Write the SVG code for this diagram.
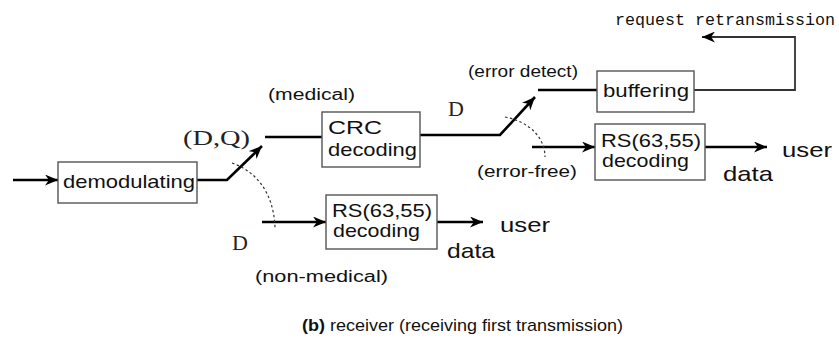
<svg xmlns="http://www.w3.org/2000/svg" width="839" height="340" viewBox="0 0 839 340">
  <style>
    .box { fill: #ffffff; stroke: #555555; stroke-width: 1.4; }
    .wire { fill: none; stroke: #000000; stroke-width: 2.6; }
    .thin { fill: none; stroke: #333333; stroke-width: 1.8; }
    .dash { fill: none; stroke: #333333; stroke-width: 1.2; stroke-dasharray: 2.5 2.5; }
    .lbl { font-family: "Liberation Sans", Arial, sans-serif; fill: #111111; }
    .node { font-size: 19px; }
    .note { font-size: 16px; }
    .ser { font-family: "Liberation Serif", "Times New Roman", serif; fill: #222222; font-size: 22px; }
    .mono { font-family: "Liberation Mono", "Courier New", monospace; fill: #111111; font-size: 16px; }
  </style>
  <defs>
    <marker id="arrowBig" viewBox="0 0 10 10" refX="10" refY="5" markerWidth="13" markerHeight="11" markerUnits="userSpaceOnUse" orient="auto" preserveAspectRatio="none">
      <path d="M0,0 L10,5 L0,10 L3,5 Z" fill="#000000"/>
    </marker>
  </defs>

  <!-- connectors -->
  <g id="connectors">
    <!-- input -->
    <line class="wire" x1="13" y1="180" x2="58" y2="180" stroke-width="2" marker-end="url(#arrowBig)"/>
    <!-- first switch -->
    <polyline class="wire" points="197,180 227,180 262,146" marker-end="url(#arrowBig)"/>
    <line class="wire" x1="265" y1="137" x2="322" y2="137"/>
    <line class="wire" x1="262" y1="222" x2="326" y2="222" marker-end="url(#arrowBig)"/>
    <path class="dash" d="M232,163 C258,172 274,195 275,228"/>
    <!-- second switch -->
    <polyline class="wire" points="420,135 500,135 535,97" marker-end="url(#arrowBig)"/>
    <line class="wire" x1="538" y1="90" x2="597" y2="90"/>
    <line class="wire" x1="532" y1="147" x2="595" y2="147" marker-end="url(#arrowBig)"/>
    <path class="dash" d="M505,117 C530,122 545,138 545,157"/>
    <!-- outputs -->
    <line class="wire" x1="705" y1="147" x2="767" y2="147" marker-end="url(#arrowBig)"/>
    <line class="wire" x1="437" y1="222" x2="483" y2="222" marker-end="url(#arrowBig)"/>
    <!-- retransmission request loop -->
    <polyline class="thin" points="694,90 795,90 795,37 702,37" marker-end="url(#arrowBig)"/>
  </g>

  <!-- nodes -->
  <g id="demodulating">
    <rect class="box" x="58" y="162" width="139" height="41"/>
    <text class="lbl node" x="63" y="188" textLength="132" lengthAdjust="spacingAndGlyphs">demodulating</text>
  </g>
  <g id="crc">
    <rect class="box" x="322" y="112" width="98" height="55"/>
    <text class="lbl node" x="328" y="134" textLength="54" lengthAdjust="spacingAndGlyphs">CRC</text>
    <text class="lbl node" x="328" y="156" textLength="89" lengthAdjust="spacingAndGlyphs">decoding</text>
  </g>
  <g id="buffering">
    <rect class="box" x="597" y="71" width="97" height="41"/>
    <text class="lbl node" x="603" y="97" textLength="86" lengthAdjust="spacingAndGlyphs">buffering</text>
  </g>
  <g id="rs-medical">
    <rect class="box" x="595" y="124" width="110" height="56"/>
    <text class="lbl node" x="601" y="147" textLength="100" lengthAdjust="spacingAndGlyphs">RS(63,55)</text>
    <text class="lbl node" x="602" y="167" textLength="87" lengthAdjust="spacingAndGlyphs">decoding</text>
  </g>
  <g id="rs-nonmedical">
    <rect class="box" x="326" y="195" width="111" height="54"/>
    <text class="lbl node" x="332" y="217" textLength="100" lengthAdjust="spacingAndGlyphs">RS(63,55)</text>
    <text class="lbl node" x="333" y="237" textLength="87" lengthAdjust="spacingAndGlyphs">decoding</text>
  </g>

  <!-- labels -->
  <g id="labels">
    <text class="mono" x="615" y="25" textLength="220" lengthAdjust="spacingAndGlyphs">request retransmission</text>
    <text class="lbl note" x="468" y="77" textLength="110" lengthAdjust="spacingAndGlyphs">(error detect)</text>
    <text class="lbl note" x="268" y="100" textLength="87" lengthAdjust="spacingAndGlyphs">(medical)</text>
    <text class="ser" font-size="23" x="183" y="145" textLength="67" lengthAdjust="spacingAndGlyphs">(D,Q)</text>
    <text class="ser" x="448" y="116">D</text>
    <text class="ser" x="232" y="250">D</text>
    <text class="lbl note" x="477" y="177" textLength="100" lengthAdjust="spacingAndGlyphs">(error-free)</text>
    <text class="lbl note" x="255" y="282" textLength="133" lengthAdjust="spacingAndGlyphs">(non-medical)</text>
    <text class="lbl" font-size="20" x="782" y="157" textLength="50" lengthAdjust="spacingAndGlyphs">user</text>
    <text class="lbl" font-size="21" x="723" y="181" textLength="50" lengthAdjust="spacingAndGlyphs">data</text>
    <text class="lbl" font-size="20" x="500" y="232" textLength="50" lengthAdjust="spacingAndGlyphs">user</text>
    <text class="lbl" font-size="21" x="447" y="258" textLength="48" lengthAdjust="spacingAndGlyphs">data</text>
    <text class="lbl" font-size="17" x="302" y="331" textLength="321" lengthAdjust="spacingAndGlyphs"><tspan font-weight="bold">(b)</tspan> receiver (receiving first transmission)</text>
  </g>
</svg>
